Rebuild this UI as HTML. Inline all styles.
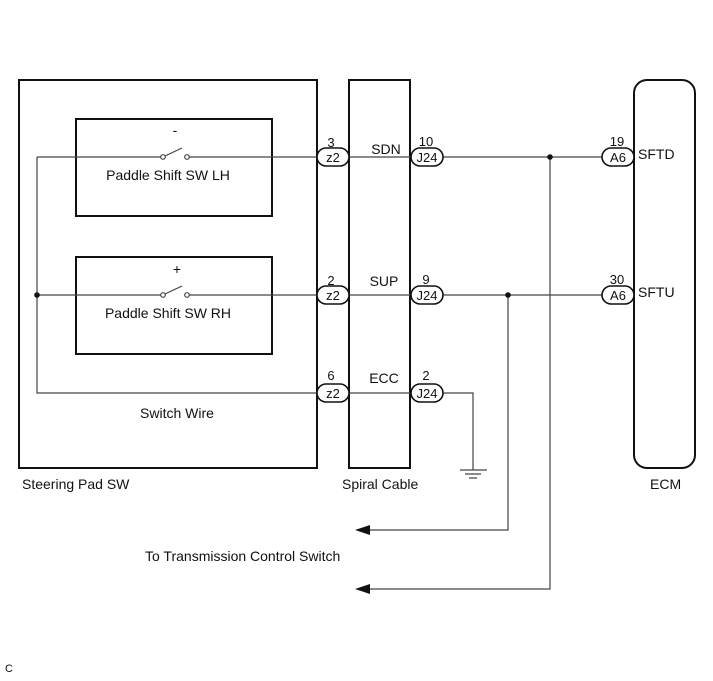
<!DOCTYPE html>
<html><head><meta charset="utf-8"><style>
html,body{margin:0;padding:0;background:#fff;}
svg{display:block;}
text{font-family:"Liberation Sans",Arial,sans-serif;fill:#111;}
</style></head><body>
<svg width="713" height="681" viewBox="0 0 713 681" xmlns="http://www.w3.org/2000/svg">
<g fill="none" stroke="#111" stroke-width="2">
<rect x="19" y="80" width="298" height="388"/>
<rect x="349" y="80" width="61" height="388"/>
<rect x="634" y="80" width="61" height="388" rx="13"/>
<rect x="76" y="119" width="196" height="97"/>
<rect x="76" y="257" width="196" height="97"/>
</g>
<g fill="none" stroke="#444" stroke-width="1.2">
<path d="M37 157 H161 M189 157 H317"/>
<path d="M37 295 H161 M189 295 H317"/>
<path d="M37 157 V393 H317"/>
<path d="M349 157 H411 M443 157 H602"/>
<path d="M349 295 H411 M443 295 H602"/>
<path d="M349 393 H411 M443 393 H473 V470"/>
<path d="M550 157 V589 H370"/>
<path d="M508 295 V530 H370"/>
<path d="M460 470 H487 M465 474 H481 M469 478 H477"/>
<circle cx="163" cy="157" r="2.3" fill="#fff"/>
<circle cx="187" cy="157" r="2.3" fill="#fff"/>
<path d="M165 156 L182 148"/>
<circle cx="163" cy="295" r="2.3" fill="#fff"/>
<circle cx="187" cy="295" r="2.3" fill="#fff"/>
<path d="M165 294 L182 286"/>
</g>
<g fill="#111">
<circle cx="37" cy="295" r="2.8"/>
<circle cx="550" cy="157" r="2.8"/>
<circle cx="508" cy="295" r="2.8"/>
<path d="M355 530 L370 525 L370 535 Z"/>
<path d="M355 589 L370 584 L370 594 Z"/>
</g>
<g fill="#fff" stroke="#111" stroke-width="1.6">
<rect x="317" y="148" width="32" height="18" rx="9"/>
<rect x="317" y="286" width="32" height="18" rx="9"/>
<rect x="317" y="384" width="32" height="18" rx="9"/>
<rect x="411" y="148" width="32" height="18" rx="9"/>
<rect x="411" y="286" width="32" height="18" rx="9"/>
<rect x="411" y="384" width="32" height="18" rx="9"/>
<rect x="602" y="148" width="32" height="18" rx="9"/>
<rect x="602" y="286" width="32" height="18" rx="9"/>
</g>
<g font-size="13" text-anchor="middle">
<text x="333" y="162">z2</text>
<text x="333" y="300">z2</text>
<text x="333" y="398">z2</text>
<text x="427" y="162">J24</text>
<text x="427" y="300">J24</text>
<text x="427" y="398">J24</text>
<text x="618" y="162">A6</text>
<text x="618" y="300">A6</text>
<text x="331" y="147">3</text>
<text x="331" y="285">2</text>
<text x="331" y="380">6</text>
<text x="426" y="146">10</text>
<text x="426" y="284">9</text>
<text x="426" y="380">2</text>
<text x="617" y="146">19</text>
<text x="617" y="284">30</text>
</g>
<g font-size="14" text-anchor="middle">
<text x="386" y="154">SDN</text>
<text x="384" y="286">SUP</text>
<text x="384" y="383">ECC</text>
<text x="175" y="135">-</text>
<text x="177" y="274">+</text>
<text x="168" y="180">Paddle Shift SW LH</text>
<text x="168" y="318">Paddle Shift SW RH</text>
<text x="177" y="418">Switch Wire</text>
</g>
<g font-size="14">
<text x="638" y="159">SFTD</text>
<text x="638" y="297">SFTU</text>
<text x="22" y="489">Steering Pad SW</text>
<text x="342" y="489">Spiral Cable</text>
<text x="650" y="489">ECM</text>
<text x="145" y="561">To Transmission Control Switch</text>
<text x="5" y="672" font-size="11">C</text>
</g>
</svg>
</body></html>
